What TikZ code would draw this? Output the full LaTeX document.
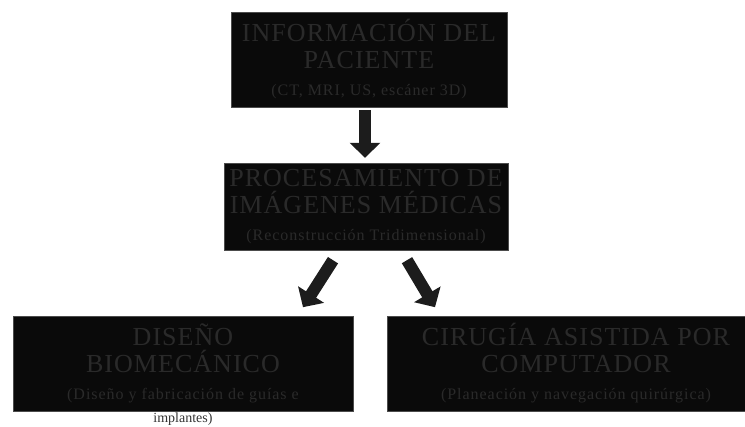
\documentclass[tikz,border=0pt]{standalone}
\usepackage{fontspec}
\setmainfont{Liberation Serif}
\usetikzlibrary{positioning,arrows.meta,calc}
\definecolor{BoxBlack}{RGB}{10,10,10}
\definecolor{BoxText}{RGB}{42,42,42}
\definecolor{ArrowDark}{RGB}{28,28,28}
\newcommand{\subline}[1]{{\fontsize{16}{18}\selectfont\addfontfeature{LetterSpace=6}#1}}
\tikzset{
  darkbox/.style={draw=black!70,fill=BoxBlack,inner sep=0pt,align=center,
    text=BoxText,font=\fontsize{26}{27}\selectfont\addfontfeature{LetterSpace=4}},
  sub/.style={font=\fontsize{14}{15}\selectfont},
  bigarrow/.style={-{Triangle[width=30pt,length=15pt]},line width=12pt,draw=ArrowDark}
}
\begin{document}
\begin{tikzpicture}[x=1pt,y=1pt]
  \useasboundingbox (0,0) rectangle (745,427);
  \node[darkbox,minimum width=276pt,minimum height=95pt] (info) at (369,367.5)
    {INFORMACIÓN DEL\\PACIENTE\\\subline{(CT, MRI, US, escáner 3D)}};
  \node[darkbox,minimum width=284pt,minimum height=87pt] (proc) at (366,220.5)
    {PROCESAMIENTO DE\\IMÁGENES MÉDICAS\\\subline{(Reconstrucción Tridimensional)}};
  \node[darkbox,minimum width=340pt,minimum height=95pt] (diseno) at (183,63.5)
    {DISEÑO\\BIOMECÁNICO\\\subline{(Diseño y fabricación de guías e}};
  \node[sub,below=0.5pt of diseno,inner sep=1pt,text=black!80] (implantes) {implantes)};
  \node[darkbox,minimum width=378pt,minimum height=95pt] (cirugia) at (576,63.5)
    {CIRUGÍA ASISTIDA POR\\COMPUTADOR\\\subline{(Planeación y navegación quirúrgica)}};

  % arrows between the blocks
  \coordinate (lfrom) at ($(proc.south)+(-33,-10)$);
  \coordinate (lto) at ($(proc.south)+(-63,-57)$);
  \coordinate (rfrom) at ($(proc.south)+(41,-10)$);
  \coordinate (rto) at ($(proc.south)+(69,-57)$);
  \draw[bigarrow,shorten <=3pt,shorten >=5pt] ([xshift=-4pt]info.south) -- ([xshift=-1pt]proc.north);
  \draw[bigarrow] (lfrom) -- (lto);
  \draw[bigarrow] (rfrom) -- (rto);
\end{tikzpicture}
\end{document}
